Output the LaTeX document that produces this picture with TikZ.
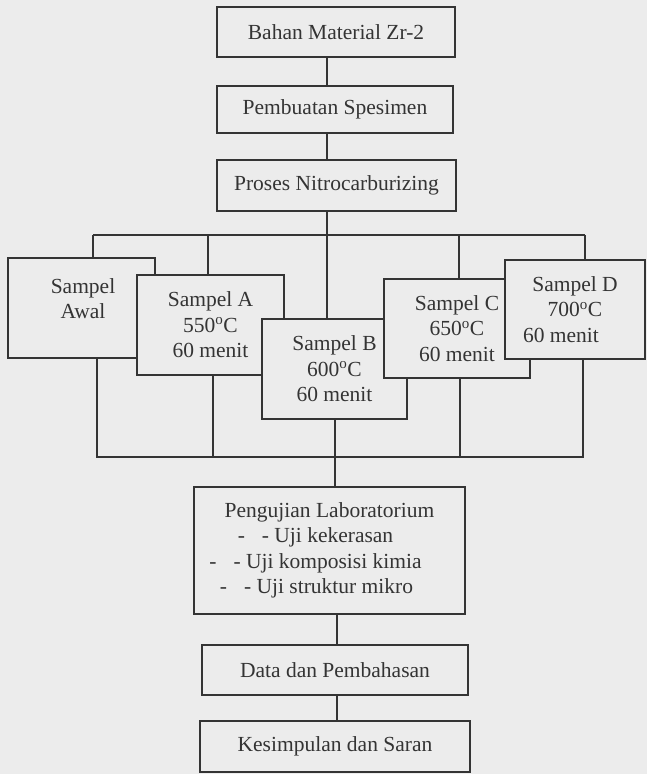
\documentclass[tikz,border=0pt]{standalone}
\usepackage{fontspec}
\setmainfont{Liberation Serif}
\usetikzlibrary{backgrounds}
\definecolor{ink}{RGB}{52,52,52}
\definecolor{paper}{RGB}{236,236,236}
\begin{document}
\begin{tikzpicture}[x=1pt,y=-1pt,
  txt/.style={text=ink, align=center, inner sep=0pt, font=\fontsize{21.5}{25.5}\selectfont},
  box/.style={txt, draw=ink, line width=1.3pt, fill=paper, rectangle},
  conn/.style={draw=ink, line width=1.3pt}]
\path[use as bounding box] (0,0) rectangle (647,774);

% main column
\node[box, minimum width=238pt, minimum height=50pt] (b1) at (336,32) {Bahan Material Zr-2};
\node[box, minimum width=236pt, minimum height=47pt] (b2) at (335,109.5) {Pembuatan Spesimen};
\node[box, minimum width=239pt, minimum height=51pt] (b3) at (336.5,185.5) {Proses Nitrocarburizing};

% sample boxes (later ones overlap earlier ones)
\node[box, minimum width=147pt, minimum height=100pt] (awal) at (81.5,308) {};
\node[txt] (tawal) at (83,298.5) {Sampel\\Awal};
\node[box, minimum width=147pt, minimum height=100pt] (sa) at (210.5,325) {Sampel A\\550\textsuperscript{o}C\\60 menit};
\node[box, minimum width=145pt, minimum height=100pt] (sb) at (334.5,369) {Sampel B\\600\textsuperscript{o}C\\60 menit};
\node[box, minimum width=146pt, minimum height=99pt] (sc) at (457,328.5) {Sampel C\\650\textsuperscript{o}C\\60 menit};
\node[box, minimum width=140pt, minimum height=99pt] (sd) at (575,309.5) {Sampel D\\700\textsuperscript{o}C\\60 menit\hspace*{28pt}\mbox{}};

\node[box, minimum width=271pt, minimum height=127pt] (lab) at (329.5,550.5)
  {Pengujian Laboratorium\\
   -\hspace{17pt}- Uji kekerasan\hspace*{28pt}\mbox{}\\
   -\hspace{17pt}- Uji komposisi kimia\hspace*{28pt}\mbox{}\\
   -\hspace{17pt}- Uji struktur mikro\hspace*{26pt}\mbox{}};
\node[box, minimum width=266pt, minimum height=50pt] (data) at (335,670) {Data dan Pembahasan};
\node[box, minimum width=270pt, minimum height=51pt] (kes) at (335,746.5) {Kesimpulan dan Saran};

% coordinates of connector buses
\coordinate (cx) at (327,0);
\coordinate (t0) at (327,235);
\coordinate (tL) at (93,235);
\coordinate (tA) at (208,235);
\coordinate (tC) at (459,235);
\coordinate (tR) at (585,235);
\coordinate (bL) at (97,457);
\coordinate (bA) at (213,457);
\coordinate (bB) at (335,457);
\coordinate (bC) at (460,457);
\coordinate (bR) at (583,457);
\coordinate (px) at (337,0);

\begin{scope}[on background layer]
  \fill[paper] (0,0) rectangle (647,774);
  \draw[conn] (b1.south -| cx) -- (b2.north -| cx);
  \draw[conn] (b2.south -| cx) -- (b3.north -| cx);
  \draw[conn] (b3.south -| cx) -- (t0);
  \draw[conn] (tL) -- (tR);
  \draw[conn] (tL) -- (awal.north -| tL);
  \draw[conn] (tA) -- (sa.north -| tA);
  \draw[conn] (t0) -- (sb.north -| t0);
  \draw[conn] (tC) -- (sc.north -| tC);
  \draw[conn] (tR) -- (sd.north -| tR);
  \draw[conn] (awal.south -| bL) -- (bL) -- (bR) -- (sd.south -| bR);
  \draw[conn] (sa.south -| bA) -- (bA);
  \draw[conn] (sb.south -| bB) -- (bB) -- (lab.north -| bB);
  \draw[conn] (sc.south -| bC) -- (bC);
  \draw[conn] (lab.south -| px) -- (data.north -| px);
  \draw[conn] (data.south -| px) -- (kes.north -| px);
\end{scope}
\end{tikzpicture}
\end{document}
